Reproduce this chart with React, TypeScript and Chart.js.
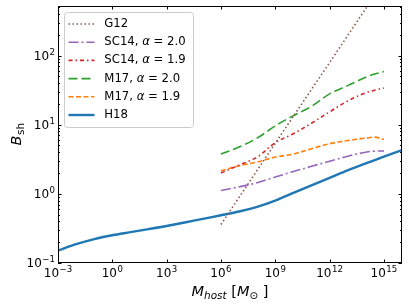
import React, { useEffect, useRef } from 'react';
import { Chart, registerables } from 'chart.js';

Chart.register(...registerables);

// ---------- data ----------
const hostMass = [1e-3, 1e-2, 1e-1, 1e0, 1e1, 1e2, 1e3, 1e4, 1e5, 1e6, 1e7, 1e8, 1e9, 1e10, 1e11, 1e12, 1e13, 1e14, 1e15, 1e16];
const h18 = [0.151, 0.187, 0.222, 0.252, 0.279, 0.309, 0.343, 0.385, 0.435, 0.49, 0.555, 0.65, 0.8, 1.03, 1.33, 1.7, 2.18, 2.75, 3.45, 4.3];

const satMass = [1e6, 1e7, 1e8, 1e9, 1e10, 1e11, 1e12, 1e13, 1e14, 3.16e14, 1e15];
const sc14a20 = [1.12, 1.26, 1.45, 1.75, 2.1, 2.5, 2.95, 3.5, 4.0, 4.15, 4.15];
const sc14a19 = [2.0, 2.6, 3.4, 5.5, 7.4, 10.5, 15.3, 22, 29, 31.5, 34];
const m17a20 = [3.76, 4.75, 6.4, 9.6, 13.5, 18.4, 27.9, 36.7, 48.5, 54, 58.6];
const m17a19 = [2.15, 2.55, 2.88, 3.4, 3.76, 4.5, 5.3, 5.9, 6.4, 6.6, 6.1];

const g12Mass = [1e6, 1e9, 1e12, 1e15];
const g12 = [0.36, 5.4, 79, 1175];

const legendLabels = ['G12', 'SC14, α = 2.0', 'SC14, α = 1.9', 'M17, α = 2.0', 'M17, α = 1.9', 'H18'];

const tickBase = '10';
const xTickValues = [1e-3, 1e0, 1e3, 1e6, 1e9, 1e12, 1e15];
const xTickExponents = ['−3', '0', '3', '6', '9', '12', '15'];
const yTickValues = [1e-1, 1e0, 1e1, 1e2];
const yTickExponents = ['−1', '0', '1', '2'];

const X_MIN = 1e-3;
const X_MAX = 1e16;
const Y_MIN = 0.1;
const Y_MAX = 520;

// ---------- styles ----------
const FONT = 'DejaVu Sans';
const TICK_SIZE = 12;
const SUP_SIZE = 8.6;

const toPts = (xs: number[], ys: number[]) => xs.map((x, i) => ({ x, y: ys[i] }));

const seriesStyles = [
  { color: '#8c564b', dash: [1.5, 2.5], width: 1.6, tension: 0 },
  { color: '#9467bd', dash: [10, 3, 2, 3], width: 1.6, tension: 0.35 },
  { color: '#d62728', dash: [4, 3, 1.5, 3], width: 1.6, tension: 0.35 },
  { color: '#2ca02c', dash: [9, 4], width: 1.6, tension: 0.35 },
  { color: '#ff7f0e', dash: [5, 2.5], width: 1.6, tension: 0.35 },
  { color: '#1f77b4', dash: [] as number[], width: 2.4, tension: 0.35 },
];

function drawMixed(ctx: CanvasRenderingContext2D, x: number, y: number, text: string, size: number) {
  const parts = text.split('α');
  let cx = x;
  parts.forEach((p, i) => {
    if (i > 0) {
      ctx.font = `italic ${size}px "${FONT}"`;
      ctx.fillText('α', cx, y);
      cx += ctx.measureText('α').width;
    }
    ctx.font = `${size}px "${FONT}"`;
    ctx.fillText(p, cx, y);
    cx += ctx.measureText(p).width;
  });
}

function powerLabelWidth(ctx: CanvasRenderingContext2D, exp: string) {
  ctx.font = `${TICK_SIZE}px "${FONT}"`;
  const w1 = ctx.measureText(tickBase).width;
  ctx.font = `${SUP_SIZE}px "${FONT}"`;
  const w2 = ctx.measureText(exp).width;
  return { w1, w2 };
}

function drawPower(ctx: CanvasRenderingContext2D, x: number, baseline: number, exp: string) {
  const { w1 } = powerLabelWidth(ctx, exp);
  ctx.font = `${TICK_SIZE}px "${FONT}"`;
  ctx.fillText(tickBase, x, baseline);
  ctx.font = `${SUP_SIZE}px "${FONT}"`;
  ctx.fillText(exp, x + w1 + 0.5, baseline - 5);
}

const decorPlugin = {
  id: 'decor',
  afterDatasetsDraw(chart: any) {
    const ctx: CanvasRenderingContext2D = chart.ctx;
    const { left, right, top, bottom } = chart.chartArea;
    const xs = chart.scales.x;
    const ys = chart.scales.y;
    ctx.save();
    // frame
    ctx.strokeStyle = '#000';
    ctx.lineWidth = 1;
    ctx.setLineDash([]);
    ctx.strokeRect(Math.round(left) + 0.5, Math.round(top) + 0.5, Math.round(right - left) - 1, Math.round(bottom - top) - 1);

    const major = 3.5;
    const minor = 2;
    ctx.beginPath();
    xTickValues.forEach((v) => {
      const px = Math.round(xs.getPixelForValue(v)) + 0.5;
      ctx.moveTo(px, bottom);
      ctx.lineTo(px, bottom - major);
      ctx.moveTo(px, top);
      ctx.lineTo(px, top + major);
    });
    for (let e = -1; e <= 2; e++) {
      for (let m = 1; m <= 9; m++) {
        const v = m * Math.pow(10, e);
        if (v < Y_MIN || v > Y_MAX) continue;
        const py = Math.round(ys.getPixelForValue(v)) + 0.5;
        const len = m === 1 ? major : minor;
        ctx.moveTo(left, py);
        ctx.lineTo(left + len, py);
        ctx.moveTo(right, py);
        ctx.lineTo(right - len, py);
      }
    }
    ctx.stroke();

    // tick labels
    ctx.fillStyle = '#000';
    ctx.textBaseline = 'alphabetic';
    ctx.textAlign = 'left';
    xTickValues.forEach((v, i) => {
      const px = xs.getPixelForValue(v);
      const { w1, w2 } = powerLabelWidth(ctx, xTickExponents[i]);
      drawPower(ctx, px - (w1 + w2 + 0.5) / 2, 276.5, xTickExponents[i]);
    });
    yTickValues.forEach((v, i) => {
      const py = ys.getPixelForValue(v);
      const { w1, w2 } = powerLabelWidth(ctx, yTickExponents[i]);
      drawPower(ctx, 55 - (w1 + w2 + 0.5), py + 4.4, yTickExponents[i]);
    });

    // legend
    const lx = 64.5, ly = 12.5, lw = 129, lh = 115, r = 3;
    ctx.beginPath();
    ctx.moveTo(lx + r, ly);
    ctx.lineTo(lx + lw - r, ly);
    ctx.quadraticCurveTo(lx + lw, ly, lx + lw, ly + r);
    ctx.lineTo(lx + lw, ly + lh - r);
    ctx.quadraticCurveTo(lx + lw, ly + lh, lx + lw - r, ly + lh);
    ctx.lineTo(lx + r, ly + lh);
    ctx.quadraticCurveTo(lx, ly + lh, lx, ly + lh - r);
    ctx.lineTo(lx, ly + r);
    ctx.quadraticCurveTo(lx, ly, lx + r, ly);
    ctx.closePath();
    ctx.fillStyle = 'rgba(255,255,255,0.8)';
    ctx.fill();
    ctx.strokeStyle = '#cccccc';
    ctx.lineWidth = 1;
    ctx.stroke();

    legendLabels.forEach((label, i) => {
      const st = seriesStyles[i];
      const y = 24 + i * 18.2;
      ctx.beginPath();
      ctx.setLineDash(st.dash);
      ctx.strokeStyle = st.color;
      ctx.lineWidth = st.width;
      ctx.moveTo(68.5, y);
      ctx.lineTo(94.5, y);
      ctx.stroke();
      ctx.setLineDash([]);
      ctx.fillStyle = '#000';
      ctx.textBaseline = 'middle';
      ctx.textAlign = 'left';
      drawMixed(ctx, 104.3, y, label, 11.7);
    });

    // y title: B_sh
    ctx.save();
    ctx.translate(21, (top + bottom) / 2);
    ctx.rotate(-Math.PI / 2);
    ctx.fillStyle = '#000';
    ctx.textBaseline = 'alphabetic';
    ctx.textAlign = 'left';
    ctx.font = `italic 14.5px "${FONT}"`;
    const wB = ctx.measureText('B').width;
    ctx.font = `10.5px "${FONT}"`;
    const wS = ctx.measureText('sh').width;
    const sx = -(wB + wS) / 2;
    ctx.font = `italic 14.5px "${FONT}"`;
    ctx.fillText('B', sx, 0);
    ctx.font = `10.5px "${FONT}"`;
    ctx.fillText('sh', sx + wB + 0.5, 3);
    ctx.restore();

    // x title: M_host [M_sun]
    const segs = [
      { t: 'M', f: `italic 14.5px "${FONT}"`, dy: 0 },
      { t: 'host', f: `italic 10.5px "${FONT}"`, dy: 3.5 },
      { t: ' [', f: `14.5px "${FONT}"`, dy: 0 },
      { t: 'M', f: `italic 14.5px "${FONT}"`, dy: 0 },
      { t: '⊙', f: `10.5px "${FONT}"`, dy: 3 },
      { t: ' ]', f: `14.5px "${FONT}"`, dy: 0 },
    ];
    let total = 0;
    segs.forEach((s) => {
      ctx.font = s.f;
      total += ctx.measureText(s.t).width;
    });
    let cx = (left + right) / 2 - total / 2;
    ctx.fillStyle = '#000';
    ctx.textBaseline = 'alphabetic';
    ctx.textAlign = 'left';
    segs.forEach((s) => {
      ctx.font = s.f;
      ctx.fillText(s.t, cx, 295.5 + s.dy);
      cx += ctx.measureText(s.t).width;
    });
    ctx.restore();
  },
};

export default function App() {
  const ref = useRef<HTMLCanvasElement | null>(null);
  useEffect(() => {
    if (!ref.current) return;
    const data = [
      toPts(g12Mass, g12),
      toPts(satMass, sc14a20),
      toPts(satMass, sc14a19),
      toPts(satMass, m17a20),
      toPts(satMass, m17a19),
      toPts(hostMass, h18),
    ];
    const chart = new Chart(ref.current, {
      type: 'line',
      data: {
        datasets: legendLabels.map((label, i) => ({
          label,
          data: data[i],
          borderColor: seriesStyles[i].color,
          backgroundColor: seriesStyles[i].color,
          borderDash: seriesStyles[i].dash,
          borderWidth: seriesStyles[i].width,
          pointRadius: 0,
          tension: seriesStyles[i].tension,
          fill: false,
        })),
      },
      options: {
        animation: false,
        responsive: false,
        layout: { padding: { top: 6, right: 7, left: 0, bottom: 0 } },
        plugins: { legend: { display: false }, tooltip: { enabled: false } },
        scales: {
          x: {
            type: 'logarithmic',
            min: X_MIN,
            max: X_MAX,
            grid: { display: false, drawTicks: false },
            border: { display: false },
            afterBuildTicks: (scale: any) => {
              scale.ticks = xTickValues.map((v) => ({ value: v }));
            },
            afterFit: (scale: any) => {
              scale.height = 42;
            },
            ticks: { display: false },
          },
          y: {
            type: 'logarithmic',
            min: Y_MIN,
            max: Y_MAX,
            grid: { display: false, drawTicks: false },
            border: { display: false },
            afterBuildTicks: (scale: any) => {
              scale.ticks = yTickValues.map((v) => ({ value: v }));
            },
            afterFit: (scale: any) => {
              scale.width = 58;
            },
            ticks: { display: false },
          },
        },
      },
      plugins: [decorPlugin],
    });
    return () => chart.destroy();
  }, []);
  return (
    <div style={{ position: 'absolute', left: 0, top: 0, width: 409, height: 305, background: '#fff' }}>
      <canvas ref={ref} width={409} height={305} style={{ width: 409, height: 305 }} />
    </div>
  );
}
